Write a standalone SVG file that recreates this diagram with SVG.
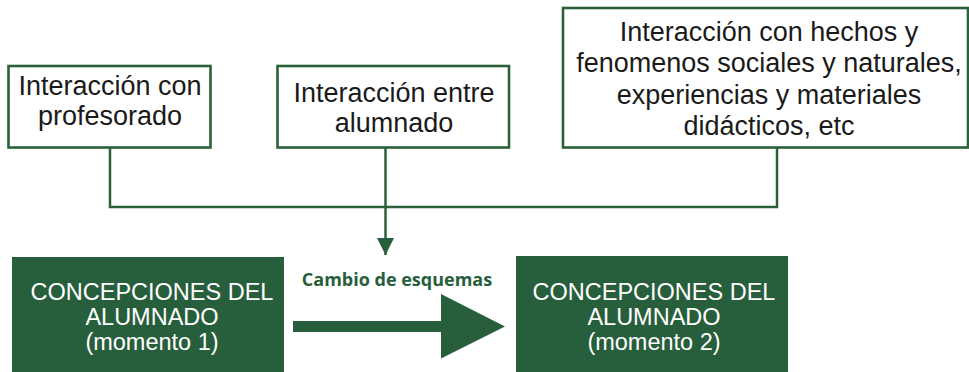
<svg xmlns="http://www.w3.org/2000/svg" width="969" height="372" viewBox="0 0 969 372">
<style>
.box{fill:#ffffff;stroke:#2b6139;stroke-width:2.6}
.dark{fill:#275e3b}
.t{font-family:"Liberation Sans",Arial,sans-serif;font-size:27px;fill:#1a1a1a;text-anchor:middle}
.w{font-family:"Liberation Sans",Arial,sans-serif;font-size:23.5px;fill:#ffffff;text-anchor:middle}
.lbl{font-family:"Open Sans",sans-serif;font-weight:bold;font-size:18px;fill:#275e3b;text-anchor:middle}
.conn{fill:none;stroke:#2b6139;stroke-width:2.5}
</style>
<defs>
<marker id="ah" markerUnits="userSpaceOnUse" markerWidth="18" markerHeight="18" refX="17" refY="8.5" orient="auto">
<path d="M0,0 L17,8.5 L0,17 Z" fill="#275e3b"/>
</marker>
</defs>
<rect width="969" height="372" fill="#ffffff"/>
<g id="connectors">
<polyline class="conn" points="110,148 110,207 777,207 777,148"/>
<line class="conn" x1="385.5" y1="148" x2="385.5" y2="255" marker-end="url(#ah)"/>
<polygon id="cambio-arrow" fill="#275e3b" points="293,321 441,321 441,294 505,326.5 441,358.5 441,332 293,332"/>
<text class="lbl" x="397" y="286">Cambio de esquemas</text>
</g>
<g id="profesorado">
<rect class="box" x="8.5" y="66" width="202" height="81.5"/>
<text class="t" x="110" y="95">Interacción con</text>
<text class="t" x="110" y="124.5">profesorado</text>
</g>
<g id="alumnado">
<rect class="box" x="277.5" y="66" width="231.5" height="81.5"/>
<text class="t" x="394" y="102">Interacción entre</text>
<text class="t" x="394" y="132">alumnado</text>
</g>
<g id="hechos">
<rect class="box" x="563" y="8" width="405" height="139.5"/>
<text class="t" x="769" y="41">Interacción con hechos y</text>
<text class="t" x="769" y="72.3">fenomenos sociales y naturales,</text>
<text class="t" x="769" y="103.6">experiencias y materiales</text>
<text class="t" x="769" y="135">didácticos, etc</text>
</g>
<g id="momento1">
<rect class="dark" x="12" y="257" width="272" height="115"/>
<text class="w" x="152" y="300">CONCEPCIONES DEL</text>
<text class="w" x="152" y="325">ALUMNADO</text>
<text class="w" x="152" y="350">(momento 1)</text>
</g>
<g id="momento2">
<rect class="dark" x="516" y="256" width="272" height="116"/>
<text class="w" x="654" y="300">CONCEPCIONES DEL</text>
<text class="w" x="654" y="325">ALUMNADO</text>
<text class="w" x="654" y="350">(momento 2)</text>
</g>
</svg>
